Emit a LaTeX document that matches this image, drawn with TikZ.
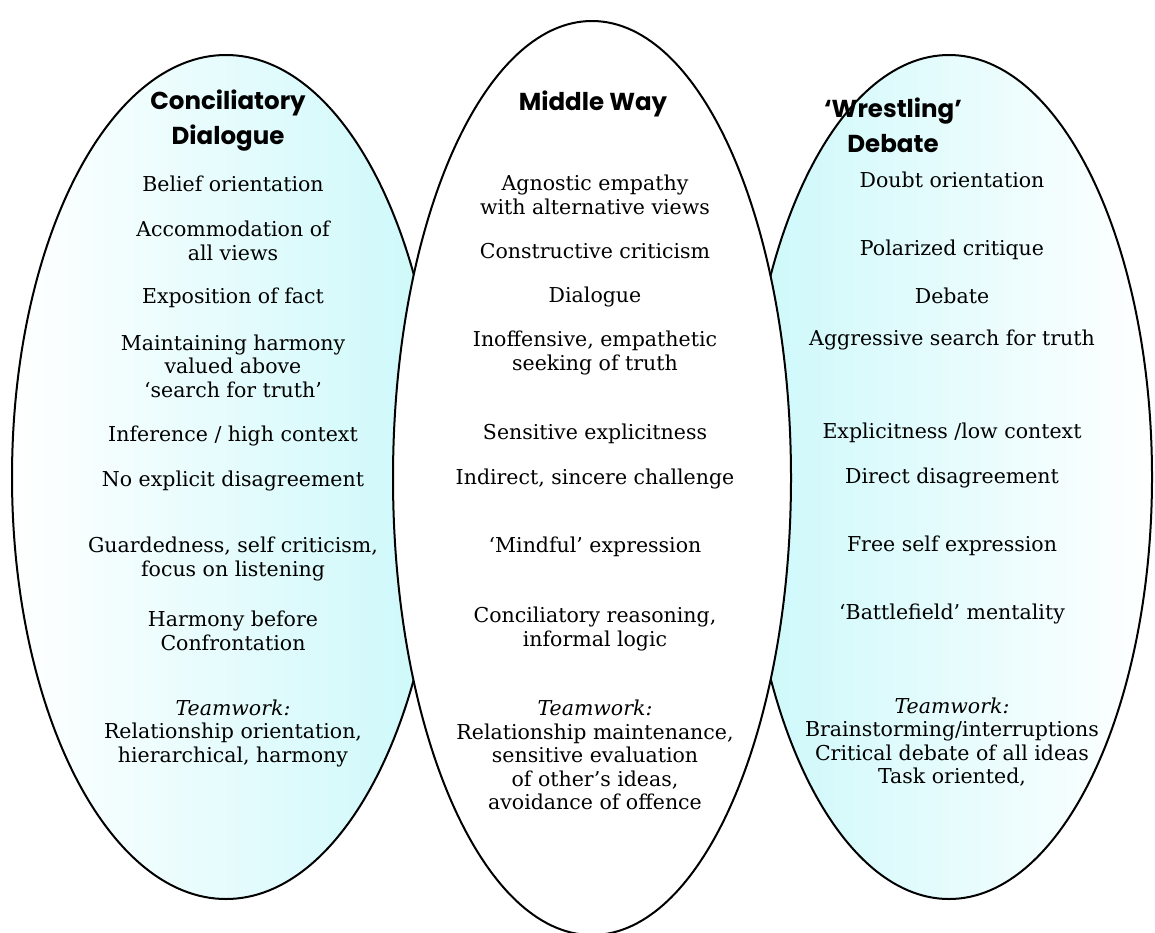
\documentclass[tikz,border=0pt]{standalone}
\usepackage{fontspec}
\setmainfont{DejaVu Serif}
\newfontfamily\headfont{Poppins}
\definecolor{paleaqua}{RGB}{204,248,250}

\tikzstyle{lobe} = [draw,line width=2pt]
\tikzstyle{item} = [align=center,inner sep=0pt,font=\fontsize{20.5}{23.5}\selectfont]
\tikzstyle{heading} = [align=center,inner sep=0pt,font=\headfont\bfseries\fontsize{24.5}{35}\selectfont]

\begin{document}
\begin{tikzpicture}[x=1pt,y=-1pt]
    \useasboundingbox (0,0) rectangle (1155,932);

    % the three lobes
    \path[lobe,left color=white,right color=paleaqua] (226,477) ellipse [x radius=214pt,y radius=422pt];
    \path[lobe,left color=paleaqua,right color=white] (949,477) ellipse [x radius=203pt,y radius=422pt];
    \path[lobe,fill=white] (592,478) ellipse [x radius=199pt,y radius=457pt];

    % headings
    \foreach \nodename/\x/\y/\text in {
      conciliatory/228/121/{Conciliatory\\Dialogue},
      middleway/593/104/{Middle Way},
      wrestling/893/125/{‘Wrestling’\\Debate}}
    {
      \node[heading] (\nodename) at (\x,\y) {\text};
    }

    % left column
    \foreach \nodename/\y/\text in {
      lbelief/184/{Belief orientation},
      laccom/241/{Accommodation of\\all views},
      lexpo/298/{Exposition of fact},
      lharmony/366/{Maintaining harmony\\valued above\\‘search for truth’},
      linfer/436/{Inference / high context},
      lnoexp/481/{No explicit disagreement},
      lguard/559/{Guardedness, self criticism,\\focus on listening},
      lbefore/631/{Harmony before\\Confrontation},
      lteam/733/{\textit{Teamwork:}\\Relationship orientation,\\hierarchical, harmony}}
    {
      \node[item] (\nodename) at (233,\y) {\text};
    }

    % middle column
    \foreach \nodename/\y/\text in {
      magnostic/195/{Agnostic empathy\\with alternative views},
      mcritic/251/{Constructive criticism},
      mdialogue/297/{Dialogue},
      minoff/353/{Inoffensive, empathetic\\seeking of truth},
      msens/434/{Sensitive explicitness},
      mindirect/479/{Indirect, sincere challenge},
      mmindful/547/{‘Mindful’ expression},
      mreason/629/{Conciliatory reasoning,\\informal logic},
      mteam/755/{\textit{Teamwork:}\\Relationship maintenance,\\sensitive evaluation\\of other’s ideas,\\avoidance of offence}}
    {
      \node[item] (\nodename) at (595,\y) {\text};
    }

    % right column
    \foreach \nodename/\y/\text in {
      rdoubt/180/{Doubt orientation},
      rpolar/250/{Polarized critique},
      rdebate/296/{Debate},
      raggr/340/{Aggressive search for truth},
      rexplicit/433/{Explicitness /low context},
      rdirect/478/{Direct disagreement},
      rfree/546/{Free self expression},
      rbattle/614/{‘Battlefield’ mentality},
      rteam/742/{\textit{Teamwork:}\\Brainstorming/interruptions\\Critical debate of all ideas\\Task oriented,}}
    {
      \node[item] (\nodename) at (952,\y) {\text};
    }
\end{tikzpicture}
\end{document}
